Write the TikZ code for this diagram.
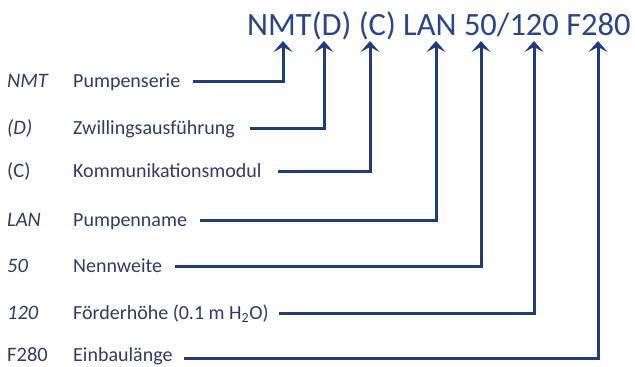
\documentclass[tikz,border=0pt]{standalone}
\usepackage{fontspec}
\setmainfont{Carlito}
\usetikzlibrary{arrows.meta}
\definecolor{linec}{RGB}{33,60,122}
\definecolor{titlec}{RGB}{42,70,134}
\definecolor{textc}{RGB}{52,58,104}
\tikzset{
  codetxt/.style={anchor=base west, inner sep=0pt, text=textc, font=\fontsize{20.5}{24}\selectfont},
  desctxt/.style={anchor=base west, inner sep=0pt, text=textc, font=\fontsize{20}{24}\selectfont},
  conn/.style={draw=linec, line width=3pt, -{Stealth[length=11pt,width=19pt,inset=5pt]}},
}
\begin{document}
\begin{tikzpicture}[x=1pt,y=-1pt]
\useasboundingbox (0,0) rectangle (635,367);
\node[anchor=base west, inner sep=0pt, text=titlec, font=\fontsize{32.5}{38}\selectfont] (title) at (247,35) {NMT(D) (C) LAN 50/120 F280};
% arrow targets under the title
\coordinate (t1) at (283,41);
\coordinate (t2) at (324,41);
\coordinate (t3) at (370,41);
\coordinate (t4) at (436,41);
\coordinate (t5) at (481,41);
\coordinate (t6) at (534,41);
\coordinate (t7) at (598,41);
% codes
\node[codetxt] (c1) at (7,87) {\itshape NMT};
\node[codetxt] (c2) at (7,134) {\itshape (D)};
\node[codetxt] (c3) at (7,177) {(C)};
\node[codetxt] (c4) at (7,226) {\itshape LAN};
\node[codetxt] (c5) at (7,272) {\itshape 50};
\node[codetxt] (c6) at (7,319) {\itshape 120};
\node[codetxt] (c7) at (7,361) {F280};
% descriptions
\node[desctxt] (d1) at (73,87) {Pumpenserie};
\node[desctxt] (d2) at (73,134) {Zwillingsausführung};
\node[desctxt] (d3) at (73,177) {Kommunikationsmodul};
\node[desctxt] (d4) at (73,226) {Pumpenname};
\node[desctxt] (d5) at (73,272) {Nennweite};
\node[desctxt] (d6) at (73,319) {Förderhöhe (0.1 m H\textsubscript{2}O)};
\node[desctxt] (d7) at (73,361) {Einbaulänge};
% connectors
\draw[conn] ([xshift=13pt]d1.east |- 0,81) -| (t1);
\draw[conn] ([xshift=15pt]d2.east |- 0,128) -| (t2);
\draw[conn] ([xshift=16pt]d3.east |- 0,171) -| (t3);
\draw[conn] ([xshift=13pt]d4.east |- 0,220) -| (t4);
\draw[conn] ([xshift=13pt]d5.east |- 0,266) -| (t5);
\draw[conn] ([xshift=10pt]d6.east |- 0,313) -| (t6);
\draw[conn] ([xshift=11pt]d7.east |- 0,358) -| (t7);
\end{tikzpicture}
\end{document}
